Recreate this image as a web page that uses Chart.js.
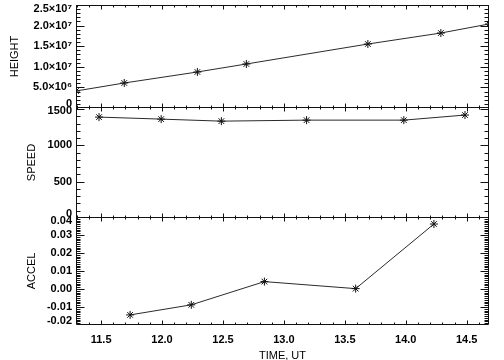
<!DOCTYPE html>
<html><head><meta charset="utf-8">
<script src="https://cdn.jsdelivr.net/npm/chart.js@4/dist/chart.umd.min.js"></script>
<style>
html,body{margin:0;padding:0;background:#fff;}
#wrap{position:relative;width:504px;height:360px;background:#fff;}
.c{position:absolute;left:0;top:0;width:504px;height:360px;}
</style></head><body>
<div id="wrap">
<div class="c"><canvas id="c1"></canvas></div>
<div class="c"><canvas id="c2"></canvas></div>
<div class="c"><canvas id="c3"></canvas></div>
</div>
<script>
// ---- data ----
const heightTimes  = [11.294, 11.690, 12.290, 12.692, 13.689, 14.288, 14.683];
const heightValues = [4.13e6, 6.07e6, 8.74e6, 1.068e7, 1.553e7, 1.82e7, 2.039e7];
const speedTimes   = [11.483, 11.993, 12.487, 13.186, 13.984, 14.486];
const speedValues  = [1391, 1363, 1335, 1349, 1349, 1419];
const accelTimes   = [11.738, 12.240, 12.840, 13.589, 14.231];
const accelValues  = [-0.0144, -0.0088, 0.0041, 0.0002, 0.0361];

// ---- axes ----
const timeRange = [11.294, 14.683];
const timeTicks = [11.5, 12.0, 12.5, 13.0, 13.5, 14.0, 14.5];
const timeTickLabels = ['11.5','12.0','12.5','13.0','13.5','14.0','14.5'];
const heightRange = [0, 2.5e7];
const heightTicks = [0, 5e6, 1e7, 1.5e7, 2e7, 2.5e7];
const heightTickLabels = ['0','5.0×10⁶','1.0×10⁷','1.5×10⁷','2.0×10⁷','2.5×10⁷'];
const speedRange = [0, 1530];
const speedTicks = [0, 500, 1000, 1500];
const speedTickLabels = ['0','500','1000','1500'];
const accelRange = [-0.02, 0.04];
const accelTicks = [-0.02, -0.01, 0, 0.01, 0.02, 0.03, 0.04];
const accelTickLabels = ['-0.02','-0.01','0.00','0.01','0.02','0.03','0.04'];

const FAMILY = '"Liberation Sans", Helvetica, Arial, sans-serif';
const WEIGHT = 'bold';
const FONT = WEIGHT + ' 11px ' + FAMILY;

function minorValues(min, max, step) {
  const out = [];
  const k0 = Math.ceil(min / step - 1e-6), k1 = Math.floor(max / step + 1e-6);
  for (let k = k0; k <= k1; k++) out.push(k * step);
  return out;
}

function framePlugin(yTicks, yLabels, yMinorStep) {
  return {
    id: 'frame',
    afterDraw(chart) {
      const ctx = chart.ctx, a = chart.chartArea;
      const xs = chart.scales.x, ys = chart.scales.y;
      ctx.save();
      ctx.strokeStyle = '#111';
      ctx.lineWidth = 1;
      const L = a.left + 0.5, R = a.right - 0.5, T = a.top + 0.5, B = a.bottom - 0.5;
      ctx.beginPath();
      ctx.rect(L, T, R - L, B - T);
      const xMajor = timeTicks, xMinor = minorValues(xs.min, xs.max, 0.1);
      const drawX = (vals, len) => vals.forEach(v => {
        const p = Math.round(xs.getPixelForValue(v)) + 0.5;
        if (p < a.left || p > a.right) return;
        ctx.moveTo(p, T); ctx.lineTo(p, T + len);
        ctx.moveTo(p, B); ctx.lineTo(p, B - len);
      });
      drawX(xMinor, 2); drawX(xMajor, 4);
      const yMinor = minorValues(ys.min, ys.max, yMinorStep);
      const drawY = (vals, len) => vals.forEach(v => {
        const p = Math.round(ys.getPixelForValue(v)) + 0.5;
        if (p < a.top || p > a.bottom) return;
        ctx.moveTo(L, p); ctx.lineTo(L + len, p);
        ctx.moveTo(R, p); ctx.lineTo(R - len, p);
      });
      drawY(yMinor, 4); drawY(yTicks, 8);
      ctx.stroke();
      ctx.fillStyle = '#000';
      ctx.font = FONT;
      ctx.textAlign = 'right';
      ctx.textBaseline = 'middle';
      yTicks.forEach((v, i) => {
        let p = ys.getPixelForValue(v);
        p = Math.min(Math.max(p, a.top + 4), a.bottom - 4);
        ctx.fillText(yLabels[i], a.left - 4, p);
      });
      ctx.restore();
    }
  };
}

function makeChart(id, times, values, yRange, yTicks, yLabels, yMinorStep, title, titlePad, padTop, padBottom, showX) {
  const xScale = {
    type: 'linear', min: timeRange[0], max: timeRange[1],
    display: showX,
    grid: { display: false, drawTicks: false },
    border: { display: false },
    afterBuildTicks: s => { s.ticks = timeTicks.map(v => ({ value: v })); },
    ticks: {
      padding: 8, maxRotation: 0, autoSkip: false,
      color: '#000', font: { family: FAMILY, size: 11, weight: WEIGHT },
      callback: (v) => { const i = timeTicks.findIndex(t => Math.abs(t - v) < 1e-6); return i >= 0 ? timeTickLabels[i] : ''; }
    },
    title: { display: showX, text: 'TIME, UT', color: '#000', font: { family: FAMILY, size: 11, lineHeight: 0.8 }, padding: { top: 0, bottom: 0 } },
    afterFit: s => { s.height = showX ? 35 : 0; }
  };
  return new Chart(document.getElementById(id), {
    type: 'line',
    data: {
      datasets: [{
        data: times.map((t, i) => ({ x: t, y: values[i] })),
        borderColor: '#2a2a2a', borderWidth: 1, tension: 0,
        pointStyle: 'star', pointRadius: 4, pointBorderWidth: 1,
        pointBorderColor: '#111', pointBackgroundColor: '#111'
      }]
    },
    options: {
      responsive: true, maintainAspectRatio: false, animation: false,
      devicePixelRatio: 1, events: [],
      layout: { padding: { left: 0, right: 15, top: padTop, bottom: padBottom } },
      plugins: { legend: { display: false }, tooltip: { enabled: false } },
      scales: {
        x: xScale,
        y: {
          type: 'linear', min: yRange[0], max: yRange[1],
          grid: { display: false, drawTicks: false },
          border: { display: false },
          ticks: { display: false },
          title: { display: true, text: title, color: '#000', font: { family: FAMILY, size: 11 }, padding: { top: titlePad, bottom: 0 } },
          afterFit: s => { s.width = 76; }
        }
      }
    },
    plugins: [framePlugin(yTicks, yLabels, yMinorStep)]
  });
}

makeChart('c1', heightTimes, heightValues, heightRange, heightTicks, heightTickLabels, 1e6, 'HEIGHT', 8.4, 4, 252, false);
makeChart('c2', speedTimes, speedValues, speedRange, speedTicks, speedTickLabels, 100, 'SPEED', 25.4, 107, 142, false);
makeChart('c3', accelTimes, accelValues, accelRange, accelTicks, accelTickLabels, 0.001, 'ACCEL', 25.4, 217, 0, true);
</script>
</body></html>
